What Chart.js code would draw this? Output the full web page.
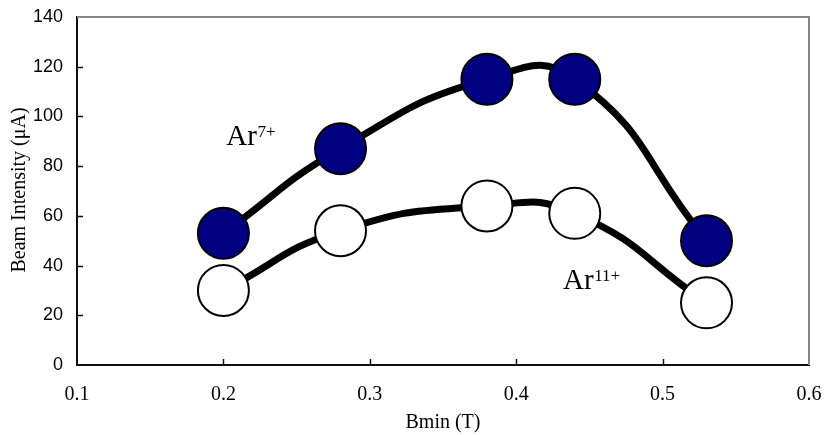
<!DOCTYPE html>
<html>
<head>
<meta charset="utf-8">
<script src="https://cdn.jsdelivr.net/npm/chart.js@4/dist/chart.umd.min.js"></script>
<style>
  html, body { margin: 0; padding: 0; background: #fff; }
  #wrap { width: 824px; height: 435px; }
</style>
</head>
<body>
<div id="wrap"><canvas id="c" width="824" height="435"></canvas></div>
<script>
// Magnetic field minimum (T) and extracted beam currents (µA)
const bmin = [0.2, 0.28, 0.38, 0.44, 0.53];
const ar7 = [53, 87, 115, 115, 50];
const ar11 = [30, 54, 64, 61, 25];

// Axis ranges and tick steps
const xTicks = [0.1, 0.2, 0.3, 0.4, 0.5, 0.6];
const yTicks = [0, 20, 40, 60, 80, 100, 120, 140];

// Series labels placed in data space: [base text, superscript, x, y]
const seriesLabels = [
  ['Ar', '7+', 0.202, 88.5],
  ['Ar', '11+', 0.432, 30.6]
];

const serif = '"Liberation Serif", "Times New Roman", serif';
const sans = '"Liberation Sans", Arial, sans-serif';

const toPoints = ys => bmin.map((x, i) => ({ x, y: ys[i] }));

// Frame (grey top/right), inward tick marks, series labels and axis titles
const decorations = {
  id: 'decorations',
  beforeDatasetsDraw(chart) {
    const { ctx, chartArea: a } = chart;
    ctx.save();
    ctx.strokeStyle = '#868686';
    ctx.lineWidth = 2;
    ctx.beginPath();
    ctx.moveTo(a.left, a.top);
    ctx.lineTo(a.right, a.top);
    ctx.lineTo(a.right, a.bottom);
    ctx.stroke();

    const xs = chart.scales.x, ys = chart.scales.y;
    ctx.strokeStyle = '#111';
    ctx.lineWidth = 1.5;
    ctx.beginPath();
    xTicks.slice(1, -1).forEach(v => {
      const px = Math.round(xs.getPixelForValue(v)) + 0.5;
      ctx.moveTo(px, a.bottom);
      ctx.lineTo(px, a.bottom - 6);
    });
    yTicks.slice(1, -1).forEach(v => {
      const py = Math.round(ys.getPixelForValue(v)) + 0.5;
      ctx.moveTo(a.left, py);
      ctx.lineTo(a.left + 6, py);
    });
    ctx.stroke();
    ctx.restore();
  },
  afterDraw(chart) {
    const { ctx, chartArea: a } = chart;
    const xs = chart.scales.x, ys = chart.scales.y;
    ctx.save();
    ctx.fillStyle = '#000';
    ctx.textBaseline = 'alphabetic';
    ctx.textAlign = 'left';
    seriesLabels.forEach(([base, sup, vx, vy]) => {
      const px = xs.getPixelForValue(vx);
      const py = ys.getPixelForValue(vy);
      ctx.font = '29px ' + serif;
      ctx.fillText(base, px, py);
      const w = ctx.measureText(base).width;
      ctx.font = '17px ' + serif;
      ctx.fillText(sup, px + w + 0.5, py - 8);
    });

    ctx.font = '20px ' + serif;
    ctx.textAlign = 'center';
    ctx.textBaseline = 'middle';
    ctx.fillText('Bmin (T)', (a.left + a.right) / 2, 423);

    ctx.translate(20, 190);
    ctx.rotate(-Math.PI / 2);
    ctx.fillText('Beam Intensity (μA)', 0, 0);
    ctx.restore();
  }
};

new Chart(document.getElementById('c'), {
  type: 'line',
  data: {
    datasets: [
      {
        label: 'Ar11+',
        data: toPoints(ar11),
        borderColor: '#000',
        borderWidth: 7,
        tension: 0.5,
        pointRadius: 25.5,
        pointHoverRadius: 25.5,
        pointBackgroundColor: '#ffffff',
        pointBorderColor: '#000',
        pointBorderWidth: 2
      },
      {
        label: 'Ar7+',
        data: toPoints(ar7),
        borderColor: '#000',
        borderWidth: 7,
        tension: 0.5,
        pointRadius: 25.5,
        pointHoverRadius: 25.5,
        pointBackgroundColor: '#000080',
        pointBorderColor: '#000',
        pointBorderWidth: 2
      }
    ]
  },
  options: {
    responsive: false,
    animation: false,
    events: [],
    layout: { autoPadding: false, padding: { left: 0, right: 15, top: 17, bottom: 0 } },
    plugins: {
      legend: { display: false },
      tooltip: { enabled: false }
    },
    scales: {
      x: {
        type: 'linear',
        min: xTicks[0],
        max: xTicks[xTicks.length - 1],
        afterFit(s) { s.height = 70; },
        afterBuildTicks(s) { s.ticks = xTicks.map(v => ({ value: v })); },
        grid: { display: false, drawTicks: false },
        border: { display: true, color: '#111', width: 2 },
        ticks: {
          padding: 0,
          color: '#000',
          // tall line box drops the labels below the axis
          font: { family: serif, size: 20, lineHeight: 3 },
          callback: v => v.toFixed(1)
        }
      },
      y: {
        type: 'linear',
        min: yTicks[0],
        max: yTicks[yTicks.length - 1],
        afterFit(s) { s.width = 77; },
        afterBuildTicks(s) { s.ticks = yTicks.map(v => ({ value: v })); },
        grid: { display: false, drawTicks: false },
        border: { display: true, color: '#111', width: 2 },
        ticks: {
          padding: 14,
          color: '#000',
          font: { family: sans, size: 18, lineHeight: 0.3 },
          callback: v => String(v)
        }
      }
    }
  },
  plugins: [decorations]
});
</script>
</body>
</html>
